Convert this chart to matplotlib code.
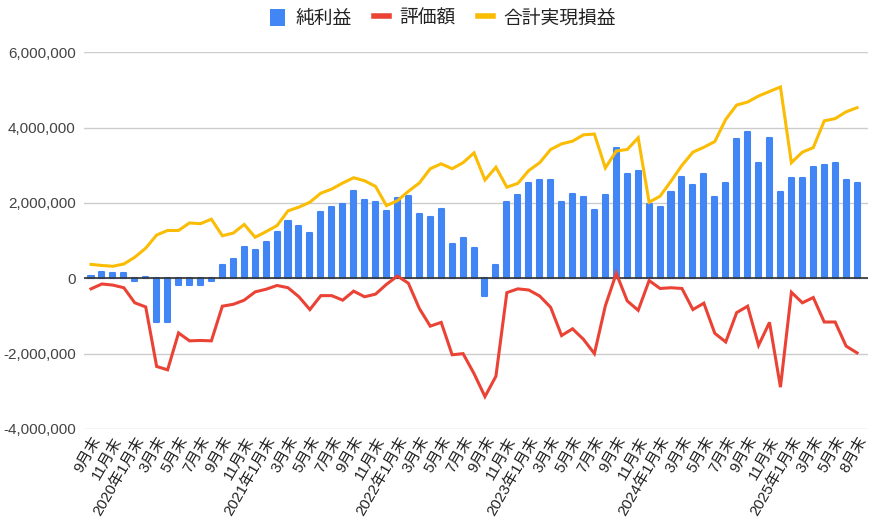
import matplotlib
matplotlib.use("Agg")
import matplotlib.pyplot as plt
from matplotlib.ticker import FuncFormatter
from matplotlib.patches import Patch
from matplotlib.lines import Line2D

plt.rcParams['font.family'] = ['Liberation Sans', 'Noto Sans CJK JP', 'DejaVu Sans']

# month-end categories (one month missing in 2025, so 5月末 -> 7月末 -> 8月末)
months = ["9月末", "10月末", "11月末", "12月末",
          "2020年1月末", "2月末", "3月末", "4月末", "5月末", "6月末", "7月末", "8月末", "9月末", "10月末", "11月末", "12月末",
          "2021年1月末", "2月末", "3月末", "4月末", "5月末", "6月末", "7月末", "8月末", "9月末", "10月末", "11月末", "12月末",
          "2022年1月末", "2月末", "3月末", "4月末", "5月末", "6月末", "7月末", "8月末", "9月末", "10月末", "11月末", "12月末",
          "2023年1月末", "2月末", "3月末", "4月末", "5月末", "6月末", "7月末", "8月末", "9月末", "10月末", "11月末", "12月末",
          "2024年1月末", "2月末", "3月末", "4月末", "5月末", "6月末", "7月末", "8月末", "9月末", "10月末", "11月末", "12月末",
          "2025年1月末", "2月末", "3月末", "4月末", "5月末", "7月末", "8月末"]

# 純利益 (bars)
net_profit = [70000, 160000, 130000, 130000, -70000, 40000, -1170000, -1150000, -180000, -180000,
              -180000, -70000, 350000, 510000, 830000, 740000, 970000, 1230000, 1530000, 1390000,
              1190000, 1760000, 1890000, 1960000, 2330000, 2070000, 2030000, 1800000, 2120000, 2190000,
              1720000, 1630000, 1830000, 900000, 1070000, 800000, -470000, 360000, 2030000, 2220000,
              2520000, 2600000, 2620000, 2030000, 2250000, 2160000, 1820000, 2220000, 3450000, 2770000,
              2860000, 1960000, 1880000, 2280000, 2690000, 2490000, 2780000, 2160000, 2520000, 3690000,
              3880000, 3070000, 3730000, 2290000, 2660000, 2660000, 2960000, 3000000, 3060000, 2600000,
              2520000]

# 評価額 (red line)
valuation = [-280000, -150000, -180000, -250000, -650000, -760000, -2340000, -2430000, -1450000, -1660000,
             -1650000, -1660000, -740000, -690000, -580000, -360000, -290000, -190000, -250000, -490000,
             -830000, -460000, -460000, -580000, -340000, -490000, -420000, -160000, 60000, -130000,
             -800000, -1270000, -1170000, -2030000, -2000000, -2530000, -3140000, -2600000, -380000, -280000,
             -310000, -470000, -770000, -1520000, -1340000, -1620000, -2000000, -730000, 130000, -600000,
             -850000, -60000, -270000, -250000, -270000, -830000, -660000, -1460000, -1690000, -910000,
             -740000, -1780000, -1170000, -2890000, -370000, -650000, -510000, -1160000, -1160000, -1800000,
             -1980000]

# 合計実現損益 (yellow line)
realized = [370000, 340000, 320000, 380000, 560000, 800000, 1150000, 1270000, 1270000, 1470000,
            1450000, 1570000, 1130000, 1200000, 1430000, 1090000, 1240000, 1400000, 1790000, 1890000,
            2020000, 2260000, 2370000, 2530000, 2670000, 2590000, 2440000, 1930000, 2060000, 2310000,
            2530000, 2910000, 3040000, 2910000, 3070000, 3330000, 2610000, 2950000, 2420000, 2520000,
            2860000, 3070000, 3420000, 3570000, 3640000, 3810000, 3830000, 2930000, 3380000, 3420000,
            3730000, 2020000, 2180000, 2580000, 3000000, 3350000, 3480000, 3630000, 4220000, 4600000,
            4680000, 4840000, 4960000, 5080000, 3070000, 3350000, 3470000, 4180000, 4240000, 4420000,
            4530000]

y_ticks = [-4000000, -2000000, 0, 2000000, 4000000, 6000000]

BLUE = '#4285F4'
RED = '#EA4335'
YELLOW = '#FBBC04'

x = list(range(len(months)))

fig = plt.figure(figsize=(8.75, 5.3), dpi=100)
ax = fig.add_axes([0.096, 0.1906, 0.896, 0.7107])

# bars (thin same-colour edge with round joins gives the soft corners), then lines on top
ax.bar(x, net_profit, width=0.46, color=BLUE, edgecolor=BLUE, linewidth=1.5,
       joinstyle='round', zorder=2)
ax.axhline(0, color='#333333', lw=1.2, zorder=3)
ax.plot(x, valuation, color=RED, lw=2.2, zorder=4, solid_joinstyle='miter')
ax.plot(x, realized, color=YELLOW, lw=2.2, zorder=4, solid_joinstyle='miter')

ax.set_xlim(-0.64, 71.0)
ax.set_ylim(-4000000, 6000000)
ax.set_yticks(y_ticks)
ax.yaxis.set_major_formatter(FuncFormatter(lambda v, p: f"{int(v):,}"))
ax.grid(axis='y', color='#cccccc', lw=1, zorder=0)
ax.set_axisbelow(True)
for s in ax.spines.values():
    s.set_visible(False)

ax.set_xticks(x[::2])
ax.set_xticklabels(months[::2], rotation=60, ha='right', rotation_mode='anchor', fontsize=11, color='#222222')
ax.tick_params(axis='x', length=0, pad=4)
ax.tick_params(axis='y', length=0, pad=6, labelsize=11, labelcolor='#444444')

handles = [Patch(facecolor=BLUE, edgecolor='none'),
           Line2D([0], [0], color=RED, lw=4),
           Line2D([0], [0], color=YELLOW, lw=4)]
fig.legend(handles, ["純利益", "評価額", "合計実現損益"], loc='upper center', bbox_to_anchor=(0.506, 1.015),
           ncol=3, frameon=False, fontsize=13.5, handlelength=0.8, handleheight=1.0,
           handletextpad=0.55, columnspacing=1.2, labelcolor='#222222')

fig.savefig("out.png", dpi=100)
